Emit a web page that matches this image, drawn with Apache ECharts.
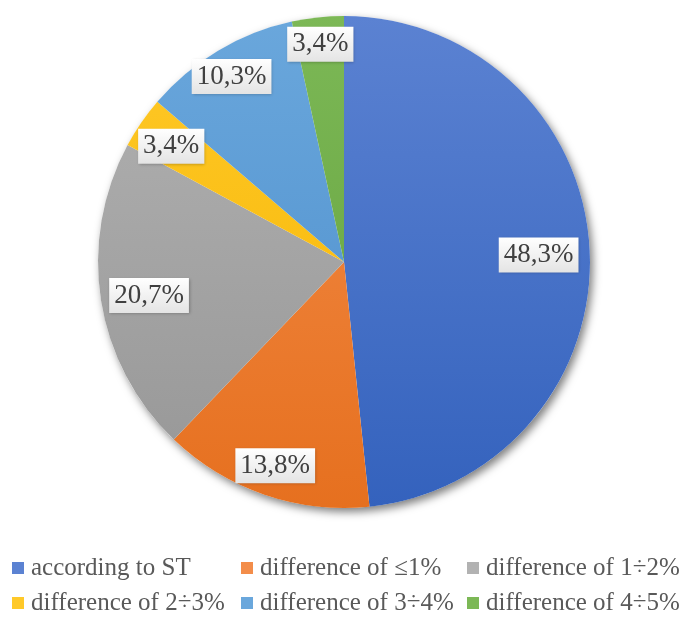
<!DOCTYPE html>
<html>
<head>
<meta charset="utf-8">
<script src="https://cdn.jsdelivr.net/npm/echarts@6/dist/echarts.min.js"></script>
<style>
  html, body { margin: 0; padding: 0; background: #fff; }
  #chart { width: 687px; height: 620px; }
</style>
</head>
<body>
<div id="chart"></div>
<script>
// Share of measurements by deviation class
const categories = [
  'according to ST',
  'difference of \u22641%',
  'difference of 1\u00f72%',
  'difference of 2\u00f73%',
  'difference of 3\u00f74%',
  'difference of 4\u00f75%'
];
const shares = [48.3, 13.8, 20.7, 3.4, 10.3, 3.4];
const colorsTop = ['#5B82D2', '#F38D4A', '#B2B2B2', '#FFC929', '#6AA7DC', '#7CB856'];
const colorsBottom = ['#3462BD', '#E6701F', '#969696', '#F5B400', '#4B8DCB', '#63A03B'];

// radial placement of each value box, as a fraction of the radius
const labelRadius = [0.78, 0.85, 0.79, 0.84, 0.88, 0.89];

const CX = 344, CY = 262, R = 246;
const BAND = [0.63, 1.0];               // label band of the overlay ring
const BAND_MID = (BAND[0] + BAND[1]) / 2;
const serif = '"Liberation Serif", "DejaVu Serif", serif';

function fillFor(i) {
  return new echarts.graphic.LinearGradient(0, CY - R, 0, CY + R, [
    { offset: 0, color: colorsTop[i] },
    { offset: 1, color: colorsBottom[i] }
  ], true);
}

const pieData = categories.map((name, i) => ({
  name: name,
  value: shares[i],
  itemStyle: { color: fillFor(i) }
}));

const labelData = categories.map((name, i) => ({ name: name, value: shares[i] }));

// mid-angle (clockwise from 12 o'clock) of each slice
const total = shares.reduce((a, b) => a + b, 0);
const midAngle = [];
shares.reduce((acc, v) => { midAngle.push((acc + v / 2) / total * 2 * Math.PI); return acc + v; }, 0);

function fmt(v) { return v.toFixed(1).replace('.', ',') + '%'; }

const chart = echarts.init(document.getElementById('chart'), null, { renderer: 'canvas' });

// legend laid out as a 3-column grid, two rows
const colLeft = [12, 241, 467];
const rowTop = [555, 590];
const legends = categories.map((name, i) => ({
  left: colLeft[i % 3],
  top: rowTop[Math.floor(i / 3)],
  orient: 'horizontal',
  itemWidth: 12,
  itemHeight: 12,
  itemGap: 0,
  icon: 'rect',
  selectedMode: false,
  padding: 0,
  textStyle: { fontFamily: serif, fontSize: 25, color: '#595959', lineHeight: 26, padding: [0, 0, 0, 2] },
  data: [name]
}));

chart.setOption({
  animation: false,
  backgroundColor: '#ffffff',
  color: colorsBottom,
  legend: legends,
  series: [
    {
      // soft drop shadow under the disc
      type: 'pie',
      center: [CX, CY],
      radius: R,
      silent: true,
      z: 1,
      label: { show: false },
      labelLine: { show: false },
      itemStyle: {
        color: '#ffffff',
        shadowBlur: 9,
        shadowOffsetX: 3,
        shadowOffsetY: 4,
        shadowColor: 'rgba(0,0,0,0.5)'
      },
      data: [{ name: '_base', value: 1 }]
    },
    {
      type: 'pie',
      center: [CX, CY],
      radius: R,
      startAngle: 90,
      clockwise: true,
      z: 2,
      silent: true,
      label: { show: false },
      labelLine: { show: false },
      data: pieData
    },
    {
      // value boxes placed in the outer band of each slice
      type: 'pie',
      center: [CX, CY],
      radius: [R * BAND[0], R * BAND[1]],
      startAngle: 90,
      clockwise: true,
      z: 3,
      silent: true,
      legendHoverLink: false,
      itemStyle: { color: 'rgba(0,0,0,0)' },
      labelLine: { show: false },
      label: {
        show: true,
        position: 'inside',
        formatter: p => fmt(p.value),
        fontFamily: serif,
        fontSize: 27,
        color: '#404040',
        padding: [5, 5, 3, 5],
        backgroundColor: new echarts.graphic.LinearGradient(0, 0, 0, 1, [
          { offset: 0, color: '#ffffff' },
          { offset: 1, color: '#e4e4e4' }
        ]),
        shadowBlur: 3,
        shadowColor: 'rgba(0,0,0,0.25)',
        shadowOffsetX: 1,
        shadowOffsetY: 1
      },
      labelLayout: function (params) {
        const i = params.dataIndex;
        const shift = (labelRadius[i] - BAND_MID) * R;
        return {
          dx: shift * Math.sin(midAngle[i]),
          dy: -shift * Math.cos(midAngle[i]) + 3
        };
      },
      data: labelData
    }
  ]
});
</script>
</body>
</html>
